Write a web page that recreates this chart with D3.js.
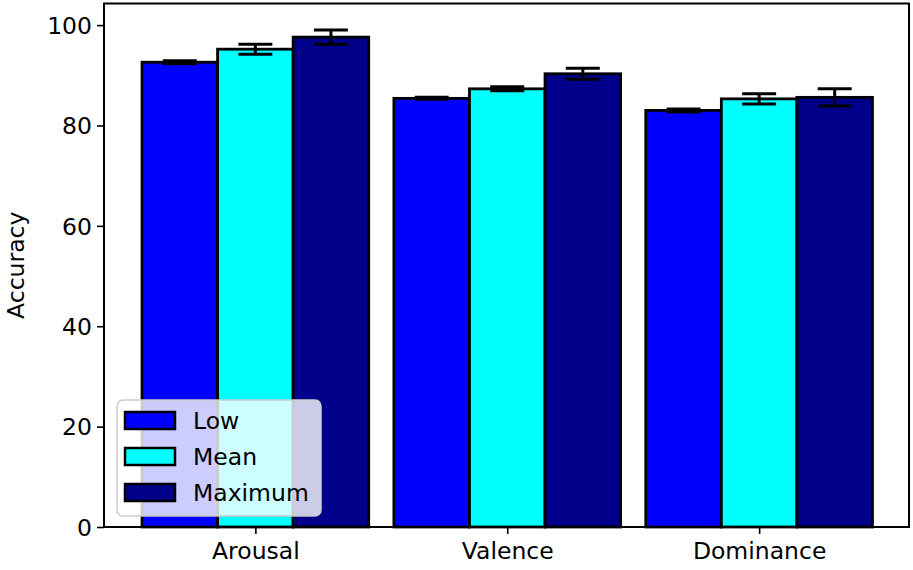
<!DOCTYPE html>
<html>
<head>
<meta charset="utf-8">
<script src="https://cdn.jsdelivr.net/npm/d3@7"></script>
<style>
  html, body { margin: 0; padding: 0; background: #fff; }
  svg { display: block; }
  text { font-family: "DejaVu Sans", sans-serif; fill: #000; }
</style>
</head>
<body>
<svg id="chart" width="913" height="570"></svg>
<script>
const categories = ["Arousal", "Valence", "Dominance"];
const seriesNames = ["Low", "Mean", "Maximum"];
const lowValues = [92.6, 85.4, 83.0];
const meanValues = [95.2, 87.3, 85.3];
const maxValues = [97.6, 90.3, 85.6];
const lowErr = [0.3, 0.2, 0.3];
const meanErr = [1.0, 0.4, 1.0];
const maxErr = [1.4, 1.1, 1.7];
const yTicks = [0, 20, 40, 60, 80, 100];
const seriesColors = ["#0000ff", "#00ffff", "#00008b"];

const values = [lowValues, meanValues, maxValues];
const errs = [lowErr, meanErr, maxErr];
const barWidth = 0.3;

const svg = d3.select("#chart");
const pLeft = 105.5, pRight = 909, pTop = 3.5, pBottom = 527;

const x = d3.scaleLinear().domain([-0.595, 2.595]).range([pLeft, pRight]);
const y = d3.scaleLinear().domain([0, 104.3]).range([pBottom, pTop]);

const data = [];
seriesNames.forEach((s, si) => {
  categories.forEach((c, ci) => {
    data.push({ s, si, ci, v: values[si][ci], e: errs[si][ci] });
  });
});

// bars
svg.append("g").selectAll("rect").data(data).enter().append("rect")
  .attr("x", d => x(d.ci + (d.si - 1) * barWidth - barWidth / 2))
  .attr("width", d => x(barWidth) - x(0))
  .attr("y", d => y(d.v))
  .attr("height", d => y(0) - y(d.v))
  .attr("fill", d => seriesColors[d.si])
  .attr("stroke", "#000")
  .attr("stroke-width", 2.8);

// error bars
const eg = svg.append("g").attr("stroke", "#000").attr("stroke-width", 3);
const capHalf = 17;
data.forEach(d => {
  const cx = x(d.ci + (d.si - 1) * barWidth);
  eg.append("line").attr("x1", cx).attr("x2", cx).attr("y1", y(d.v - d.e)).attr("y2", y(d.v + d.e));
  eg.append("line").attr("x1", cx - capHalf).attr("x2", cx + capHalf).attr("y1", y(d.v - d.e)).attr("y2", y(d.v - d.e));
  eg.append("line").attr("x1", cx - capHalf).attr("x2", cx + capHalf).attr("y1", y(d.v + d.e)).attr("y2", y(d.v + d.e));
});

// axes
const yAxis = d3.axisLeft(y).tickValues(yTicks).tickSize(7).tickPadding(5).tickFormat(d3.format("d"));
const gy = svg.append("g").attr("transform", `translate(${pLeft - 1.5},0)`).call(yAxis);
gy.select(".domain").remove();
gy.selectAll(".tick line").attr("stroke", "#000").attr("stroke-width", 1.6);
gy.selectAll(".tick text").attr("font-size", "23.5px").attr("font-family", "DejaVu Sans, sans-serif").attr("dy", "0.35em");

const xAxis = d3.axisBottom(x).tickValues(categories.map((c, i) => i)).tickFormat(i => categories[i]).tickSize(7).tickPadding(8);
const gx = svg.append("g").attr("transform", `translate(0,${pBottom})`).call(xAxis);
gx.select(".domain").remove();
gx.selectAll(".tick line").attr("stroke", "#000").attr("stroke-width", 1.6);
gx.selectAll(".tick text").attr("font-size", "23.5px").attr("font-family", "DejaVu Sans, sans-serif");

// spines
svg.append("rect").attr("x", pLeft - 1.5).attr("y", pTop).attr("width", pRight - pLeft + 1.5).attr("height", pBottom - pTop)
  .attr("fill", "none").attr("stroke", "#000").attr("stroke-width", 2);

// y label
svg.append("text").attr("transform", `translate(24,${(pTop + pBottom) / 2}) rotate(-90)`)
  .attr("text-anchor", "middle").attr("font-size", "23.5px").text("Accuracy");

// legend
const lg = svg.append("g");
lg.append("rect").attr("x", 117).attr("y", 400).attr("width", 204).attr("height", 116).attr("rx", 6)
  .attr("fill", "rgba(255,255,255,0.8)").attr("stroke", "#cccccc").attr("stroke-width", 1.5);
seriesNames.forEach((s, i) => {
  const ly = 412 + i * 36;
  lg.append("rect").attr("x", 125).attr("y", ly).attr("width", 50).attr("height", 17)
    .attr("fill", seriesColors[i]).attr("stroke", "#000").attr("stroke-width", 2.5);
  lg.append("text").attr("x", 193).attr("y", ly + 8.5).attr("dy", "0.35em")
    .attr("font-size", "23.5px").text(s);
});
</script>
</body>
</html>
